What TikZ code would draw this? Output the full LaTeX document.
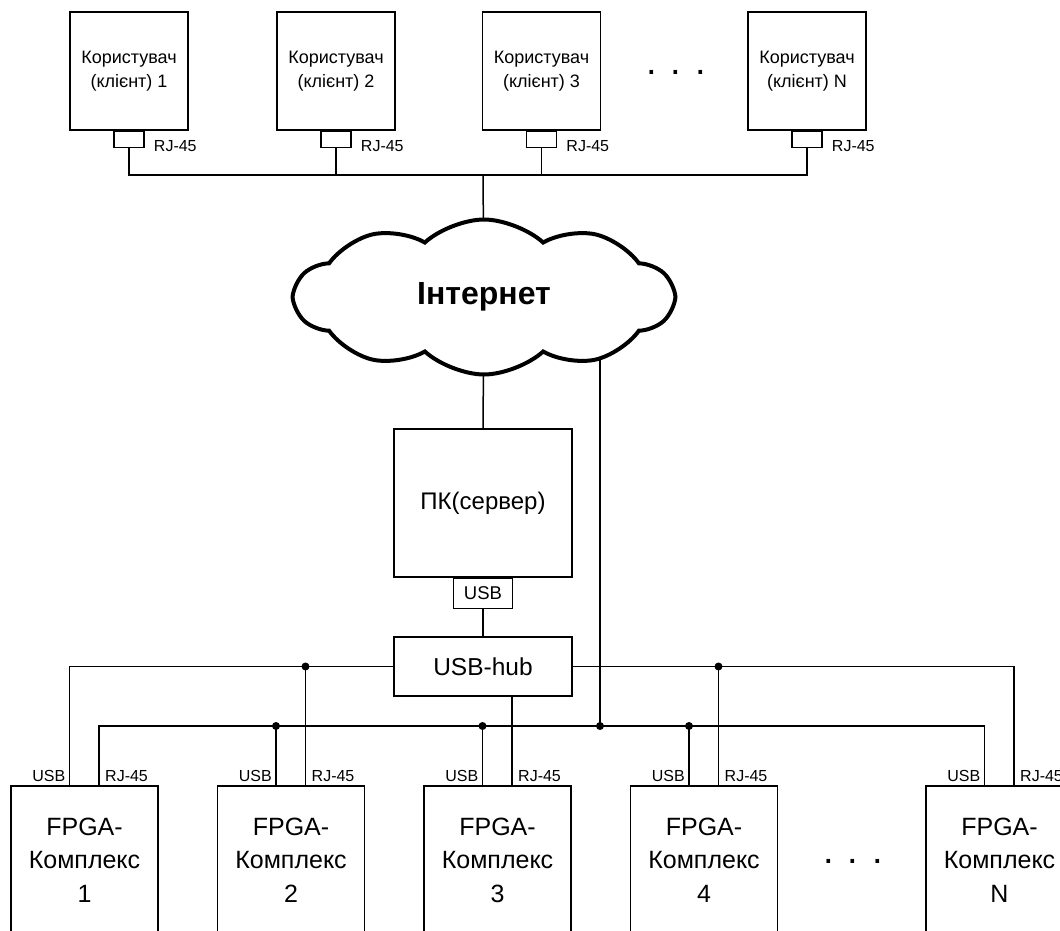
\documentclass[tikz,border=0pt]{standalone}
\usepackage{fontspec}
\setmainfont{Liberation Sans}
\usetikzlibrary{shapes.symbols,backgrounds}

\tikzset{
  blok/.style={draw, line width=1.5pt, fill=white, align=center, inner sep=0pt},
  port/.style={draw, line width=1.5pt, fill=white, inner sep=0pt},
  lab/.style={inner sep=0pt, font=\fontsize{16}{18}\selectfont},
  wire/.style={line width=1.5pt},
  junc/.style={circle, fill=black, inner sep=0pt, minimum size=8pt},
}

\begin{document}
\begin{tikzpicture}[x=1pt, y=-1pt]
\useasboundingbox (0,0) rectangle (1060,930);

%%%%% Users %%%%%
\foreach \n/\x/\t in {u1/129/1, u2/336/2, u3/541.5/3, uN/807/N}{
  \node[blok, minimum width=118, minimum height=118, font=\fontsize{18}{24}\selectfont] (\n) at (\x,71) {Користувач\\(клієнт) \t};
  \node[port, minimum width=30, minimum height=16, anchor=north] (p\n) at (\n.south) {};
  \node[lab, anchor=west] (l\n) at ([xshift=9pt, yshift=-7pt]p\n.east) {RJ-45};
}
\node[font=\fontsize{38}{40}\selectfont, anchor=base, inner sep=0pt] (dotsu) at (676,74) {. . .};

%%%%% Internet %%%%%
\coordinate (bus) at (483,175);
\draw[wire] (pu1.south) |- (bus) -| (puN.south);
\draw[wire] (pu2.south) -- (pu2.south |- bus);
\draw[wire] (pu3.south) -- (pu3.south |- bus);
\node[cloud, draw, line width=4pt, fill=white, cloud puffs=10, cloud puff arc=85, aspect=2.4, inner sep=0pt,
      minimum width=378, minimum height=155, font=\fontsize{32}{36}\selectfont\bfseries] (net) at (484,297) {Інтернет};

%%%%% Server %%%%%
\node[blok, minimum width=178, minimum height=148, font=\fontsize{24}{28}\selectfont] (pc) at (483,503) {ПК(сервер)};
\node[port, minimum width=59, minimum height=30, anchor=north, font=\fontsize{18.5}{20}\selectfont] (usb) at (pc.south) {USB};
\node[blok, minimum width=178, minimum height=59, font=\fontsize{24.5}{28}\selectfont] (hub) at (483,666.5) {USB-hub};
\draw[wire] (usb) -- (hub);

%%%%% FPGA %%%%%
\foreach \n/\x/\t in {f1/84.5/1, f2/291/2, f3/497.5/3, f4/704/4, fN/999.5/N}{
  \node[blok, minimum width=147, minimum height=148, font=\fontsize{25}{33.5}\selectfont] (\n) at (\x,860) {FPGA-\\Комплекс\\\t};
  \coordinate (u\n) at ([xshift=-15pt]\n.north);
  \coordinate (r\n) at ([xshift=14.5pt]\n.north);
  \node[lab, anchor=base east] (lu\n) at ([xshift=-4pt, yshift=4pt]u\n) {USB};
  \node[lab, anchor=base west] (lr\n) at ([xshift=6pt, yshift=4pt]r\n) {RJ-45};
}
\node[font=\fontsize{38}{40}\selectfont, anchor=base, inner sep=0pt] (dotsf) at (853,863) {. . .};

\coordinate (lbus) at (600,726);
\draw[wire] (hub.west) -| (uf1);
\draw[wire] (hub.east) -| (rfN);
\draw[wire] (rf2) -- (rf2 |- hub.west) node[junc] (j1) {};
\draw[wire] (rf4) -- (rf4 |- hub.east) node[junc] (j2) {};
\draw[wire] (rf1) |- (lbus) -| (ufN);
\foreach \n in {f2,f3,f4}{
  \draw[wire] (u\n) -- (u\n |- lbus) node[junc] (j\n) {};
}
\node[junc] (jnet) at (lbus) {};
\draw[wire] (hub.south -| rf3) -- (rf3);

\begin{scope}[on background layer]
\draw[wire] (bus) -- (net.center);
\draw[wire] (net.center) -- (pc.north);
\draw[wire] (net.center -| lbus) -- (lbus);
\end{scope}
\end{tikzpicture}
\end{document}
